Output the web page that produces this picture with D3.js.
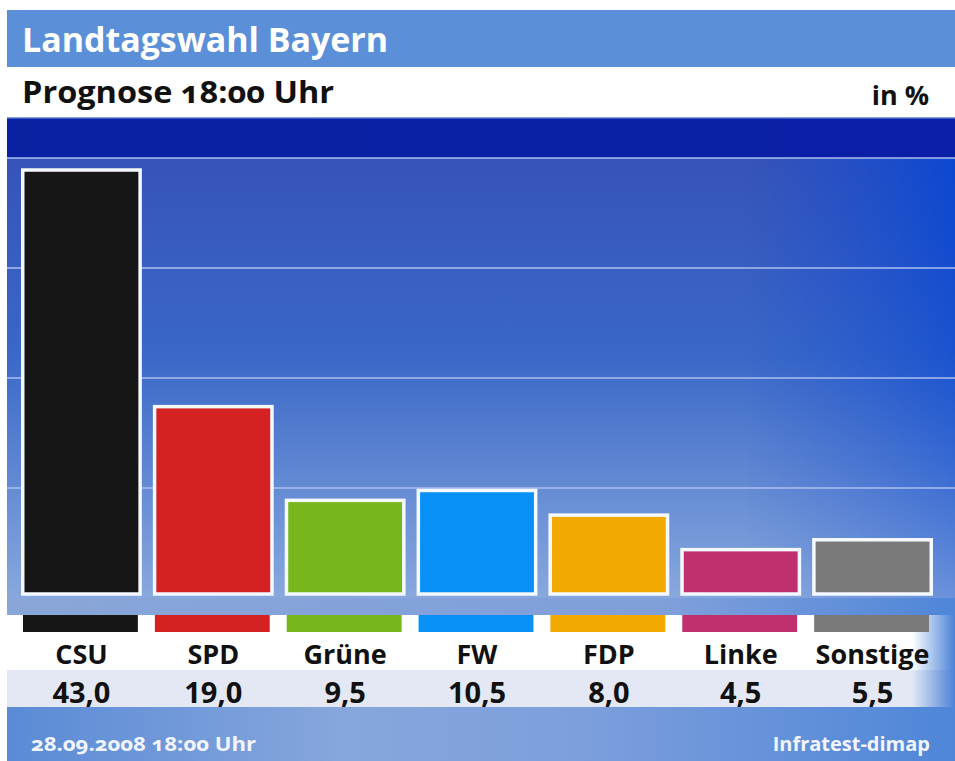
<!DOCTYPE html>
<html>
<head>
<meta charset="utf-8">
<script src="https://cdn.jsdelivr.net/npm/d3@7"></script>
<style>
  html, body { margin: 0; padding: 0; background: #fff; }
  svg { display: block; }
  text { font-family: "Open Sans", "Noto Sans", sans-serif; font-weight: 700; }
</style>
</head>
<body>
<div id="chart"></div>
<script>
// Daten
const parties = ["CSU", "SPD", "Grüne", "FW", "FDP", "Linke", "Sonstige"]
const values = [43.0, 19.0, 9.5, 10.5, 8.0, 4.5, 5.5]
const partyColors = ["#161616", "#d52121", "#78b61e", "#0990f6", "#f2a900", "#c0306f", "#7a7a7a"]

const title = "Landtagswahl Bayern"
const subtitle = "Prognose 18:00 Uhr"
const unit = "in %"
const footerLeft = "28.09.2008 18:00 Uhr"
const footerRight = "Infratest-dimap"

let width = 955
let height = 761
let frame = { left: 7, top: 10, right: 955, bottom: 761 }

let svg = d3.select("#chart").append("svg")
    .attr("width", width)
    .attr("height", height)

let defs = svg.append("defs")

// Verläufe
function linGrad(id, x1, y1, x2, y2, stops) {
    let g = defs.append("linearGradient")
        .attr("id", id)
        .attr("x1", x1).attr("y1", y1).attr("x2", x2).attr("y2", y2)
    stops.forEach(s => {
        g.append("stop").attr("offset", s[0]).attr("stop-color", s[1]).attr("stop-opacity", s[2] == null ? 1 : s[2])
    })
}
linGrad("plotV", 0, 0, 0, 1, [[0, "#3653b9"], [0.45, "#3a68c8"], [1, "#88a8dd"]])
linGrad("plotH", 0, 0, 1, 0, [[0, "#ffffff", 0], [0.78, "#1a4cd0", 0], [1, "#0646d4", 0.9]])
linGrad("plotH2", 0, 0, 0, 1, [[0, "#ffffff", 1], [1, "#ffffff", 0.25]])
linGrad("footerG", 0, 0, 1, 0, [[0, "#5a8bd6"], [0.35, "#86a6dc"], [0.6, "#7d9fdc"], [1, "#4f86d8"]])
linGrad("fadeR", 0, 0, 1, 0, [[0, "#4a82d8", 0], [1, "#4a82d8", 1]])
linGrad("bandG", 0, 0, 1, 0, [[0, "#8aa6d8"], [0.7, "#7f9fdb"], [1, "#4f86d8"]])
linGrad("darkG", 0, 0, 1, 0, [[0, "#0a21a2"], [1, "#0a1fa6"]])

defs.append("mask").attr("id", "rightMask")
    .append("rect")
    .attr("x", 0).attr("y", 158).attr("width", width).attr("height", 440)
    .attr("fill", "url(#plotH2)")

let fw = frame.right - frame.left

// Titelband
svg.append("rect").attr("x", frame.left).attr("y", frame.top).attr("width", fw).attr("height", 57).attr("fill", "#5b8fd8")
svg.append("rect").attr("x", frame.left).attr("y", 67).attr("width", fw).attr("height", 50).attr("fill", "#ffffff")
svg.append("rect").attr("x", frame.left).attr("y", 117).attr("width", fw).attr("height", 41).attr("fill", "url(#darkG)")
svg.append("rect").attr("x", frame.left).attr("y", 117).attr("width", fw).attr("height", 1.5).attr("fill", "#7d9be0")

// Plotbereich
let plotTop = 158, plotBottom = 598
svg.append("rect").attr("x", frame.left).attr("y", plotTop).attr("width", fw).attr("height", plotBottom - plotTop).attr("fill", "url(#plotV)")
svg.append("rect").attr("x", frame.left).attr("y", plotTop).attr("width", fw).attr("height", plotBottom - plotTop)
    .attr("fill", "url(#plotH)").attr("mask", "url(#rightMask)")

// Skalen
let xScale = d3.scaleBand()
    .domain(parties)
    .range([15.5, 938.5])
    .paddingInner(11 / 132)
    .paddingOuter(0.5 * 11 / 132)

let yScale = d3.scaleLinear()
    .domain([0, 43])
    .range([594, 170])

let colorScale = d3.scaleOrdinal().domain(parties).range(partyColors)

// Gitterlinien (dekorativ, Viertel des Plotbereichs)
let gridY = d3.range(0, 4).map(i => plotTop + i * (plotBottom - plotTop) / 4)
svg.append("g").selectAll("rect")
    .data(gridY)
    .enter().append("rect")
    .attr("x", frame.left).attr("width", fw)
    .attr("y", d => d - 1).attr("height", 2)
    .attr("fill", "#a9bff0").attr("opacity", 0.75)

// Balken
let stroke = 3.5
svg.append("g").selectAll("rect")
    .data(parties)
    .enter().append("rect")
    .attr("x", d => xScale(d) + stroke / 2)
    .attr("width", xScale.bandwidth() - stroke)
    .attr("y", (d, i) => yScale(values[i]))
    .attr("height", (d, i) => yScale(0) - yScale(values[i]))
    .attr("fill", d => colorScale(d))
    .attr("stroke", "#f4f8ff")
    .attr("stroke-width", stroke)

// helles Band unter den Balken
svg.append("rect").attr("x", frame.left).attr("y", plotBottom).attr("width", fw).attr("height", 17).attr("fill", "url(#bandG)")

// Legendenzeile + Werte
svg.append("rect").attr("x", frame.left).attr("y", 615).attr("width", fw).attr("height", 55).attr("fill", "#ffffff")
svg.append("rect").attr("x", frame.left).attr("y", 670).attr("width", fw).attr("height", 37).attr("fill", "#e3e8f4")
svg.append("rect").attr("x", 912).attr("y", 615).attr("width", frame.right - 912).attr("height", 92).attr("fill", "url(#fadeR)")

svg.append("g").selectAll("rect")
    .data(parties)
    .enter().append("rect")
    .attr("x", d => xScale(d) + 2)
    .attr("width", xScale.bandwidth() - 6)
    .attr("y", 615).attr("height", 17)
    .attr("fill", d => colorScale(d))

svg.append("g").selectAll("text")
    .data(parties)
    .enter().append("text")
    .attr("x", d => xScale(d) + xScale.bandwidth() / 2)
    .attr("y", 664)
    .attr("text-anchor", "middle")
    .attr("font-size", 27)
    .attr("fill", "#111")
    .text(d => d)

let fmt = d3.format(".1f")
svg.append("g").selectAll("text")
    .data(values)
    .enter().append("text")
    .attr("x", (d, i) => xScale(parties[i]) + xScale.bandwidth() / 2)
    .attr("y", 703)
    .attr("text-anchor", "middle")
    .attr("font-size", 29)
    .attr("fill", "#111")
    .text(d => fmt(d).replace(".", ","))

// Fußzeile
svg.append("rect").attr("x", frame.left).attr("y", 707).attr("width", fw).attr("height", frame.bottom - 707).attr("fill", "url(#footerG)")

// Texte
function fitText(sel, w) {
    sel.attr("textLength", w).attr("lengthAdjust", "spacingAndGlyphs")
}
svg.append("text").attr("x", 22).attr("y", 52).attr("font-size", 34).attr("fill", "#ffffff")
    .text(title).call(fitText, 366)
svg.append("text").attr("x", 22).attr("y", 103).attr("font-size", 31).attr("fill", "#111")
    .style("font-variant-numeric", "oldstyle-nums")
    .text(subtitle).call(fitText, 312)
svg.append("text").attr("x", 929).attr("y", 105).attr("font-size", 27).attr("fill", "#111")
    .attr("text-anchor", "end").text(unit)
svg.append("text").attr("x", 31).attr("y", 751).attr("font-size", 20).attr("fill", "#f2f5ff")
    .style("font-variant-numeric", "oldstyle-nums")
    .text(footerLeft).call(fitText, 225)
svg.append("text").attr("x", 930).attr("y", 751).attr("font-size", 20).attr("fill", "#f2f5ff")
    .attr("text-anchor", "end")
    .text(footerRight)
</script>
</body>
</html>
